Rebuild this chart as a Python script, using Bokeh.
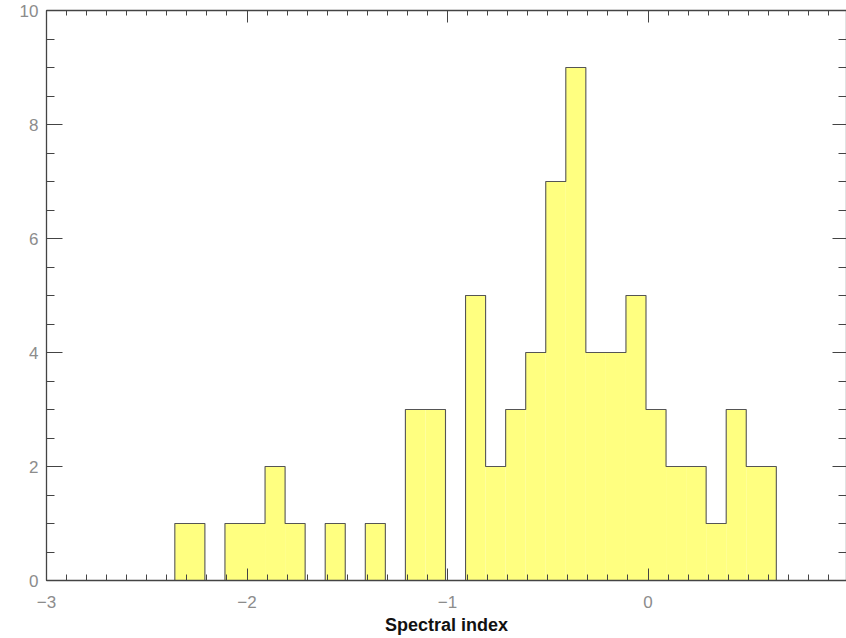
from bokeh.plotting import figure
from bokeh.models import LinearAxis, FixedTicker, Range1d, CustomLabelingPolicy
from bokeh.embed import file_html
from bokeh.resources import INLINE

# ---- data ----
bin_centers = [-2.26, -2.16, -2.06, -1.96, -1.86, -1.76, -1.66, -1.56, -1.46, -1.36,
               -1.26, -1.16, -1.06, -0.96, -0.86, -0.76, -0.66, -0.56, -0.46, -0.36,
               -0.26, -0.16, -0.06, 0.04, 0.14, 0.24, 0.34, 0.44, 0.54]
counts = [1, 0, 1, 1, 2, 1, 0, 1, 0, 1,
          0, 3, 3, 0, 5, 2, 3, 4, 7, 9,
          4, 4, 5, 3, 2, 2, 1, 3, 2]
bin_width = 0.1
x_major = [-3, -2, -1, 0, 1]
y_major = [0, 2, 4, 6, 8, 10]
x_labels = {-3: "\u22123", -2: "\u22122", -1: "\u22121", 0: "0", 1: "1"}

# IDL psym=10 style: end bins extended by half a bin
lefts = [c - bin_width / 2 for c in bin_centers]
rights = [c + bin_width / 2 for c in bin_centers]
lefts[0] -= bin_width / 2
rights[-1] += bin_width / 2

# step outline
sx, sy = [lefts[0]], [0]
for l, r, c in zip(lefts, rights, counts):
    sx += [l, r]
    sy += [c, c]
sx.append(rights[-1])
sy.append(0)

p = figure(width=846, height=638, x_range=Range1d(-3, 0.99), y_range=Range1d(0, 10),
           output_backend="svg", toolbar_location=None,
           min_border_left=46, min_border_right=0, min_border_top=10, min_border_bottom=58,
           background_fill_color="white", border_fill_color="white",
           outline_line_color=None)
p.grid.visible = False

p.quad(left=lefts, right=rights, bottom=0, top=counts,
       fill_color="#ffff80", line_color=None)
p.line(sx, sy, line_color="#555555", line_width=1.1)

axcol = "#444444"
minor_x = [round(-3 + 0.1 * i, 2) for i in range(41)]
minor_y = [0.5 * i for i in range(21)]

def style(ax, tin, tmin, show_labels):
    ax.axis_line_color = axcol
    ax.axis_line_width = 1.3
    ax.major_tick_line_color = axcol
    ax.minor_tick_line_color = axcol
    ax.major_tick_in = tin
    ax.major_tick_out = 0
    ax.minor_tick_in = tmin
    ax.minor_tick_out = 0
    if not show_labels:
        ax.major_label_policy = CustomLabelingPolicy(code="return new Set()")
        ax.major_label_text_font_size = "0px"
        ax.major_label_standoff = 0

xb = p.xaxis[0]
xb.ticker = FixedTicker(ticks=x_major, minor_ticks=minor_x)
xb.major_label_overrides = x_labels
style(xb, 12, 6, True)
xb.major_label_text_font = "Liberation Sans"
xb.major_label_text_font_size = "17px"
xb.major_label_text_color = "#8c8c8c"
xb.major_label_standoff = 15
xb.axis_label = "Spectral index"
xb.axis_label_text_font = "Liberation Sans"
xb.axis_label_text_font_style = "bold"
xb.axis_label_text_font_size = "18px"
xb.axis_label_text_color = "#111111"
xb.axis_label_standoff = 4

yl = p.yaxis[0]
yl.ticker = FixedTicker(ticks=y_major, minor_ticks=minor_y)
style(yl, 16, 8, True)
yl.major_label_text_font = "Liberation Sans"
yl.major_label_text_font_size = "17px"
yl.major_label_text_color = "#8c8c8c"
yl.major_label_standoff = 8

xt = LinearAxis(ticker=FixedTicker(ticks=x_major, minor_ticks=minor_x))
style(xt, 12, 5, False)
p.add_layout(xt, "above")

yr = LinearAxis(ticker=FixedTicker(ticks=y_major, minor_ticks=minor_y))
style(yr, 14, 8, False)
p.add_layout(yr, "right")

open("out.html", "w").write(file_html(p, INLINE))
